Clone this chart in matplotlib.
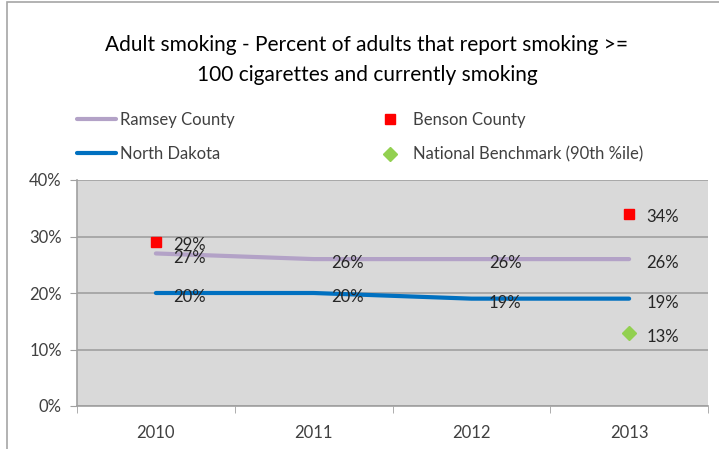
import matplotlib
matplotlib.use("Agg")
from matplotlib import pyplot as plt
from matplotlib.patches import Rectangle

# data
years = ["2010", "2011", "2012", "2013"]
ramsey = [27, 26, 26, 26]
north_dakota = [20, 20, 19, 19]
benson_idx = [0, 3]
benson = [29, 34]
bench_idx = [3]
benchmark = [13]

plt.rcParams['font.family'] = ['Lato', 'DejaVu Sans']

fig = plt.figure(figsize=(7.19, 4.49), dpi=100)
ax = fig.add_axes([77 / 719, 1 - 406 / 449, (708 - 77) / 719, (406 - 180) / 449])

x = list(range(len(years)))
ax.plot(x, ramsey, color='#b3a2c7', lw=3, solid_capstyle='round', label='Ramsey County')
ax.plot(x, north_dakota, color='#0070c0', lw=3, solid_capstyle='round', label='North Dakota')
ax.plot(benson_idx, benson, 's', color='#ff0000', ms=7.5, ls='none', label='Benson County')
ax.plot(bench_idx, benchmark, 'D', color='#92d050', ms=7, ls='none',
        label='National Benchmark (90th %ile)')

# data labels
def label(xs, ys, dy=-3):
    for xi, yi in zip(xs, ys):
        ax.annotate(f"{yi}%", (xi, yi), xytext=(12.5, dy), textcoords='offset points',
                    ha='left', va='center', fontsize=12, color='#262626')

label(x, ramsey)
label(x, north_dakota)
label(benson_idx, benson, dy=-2)
label(bench_idx, benchmark)

ax.set_xlim(-0.5, 3.5)
ax.set_ylim(0, 40)
ax.set_facecolor('#d9d9d9')
ax.set_yticks([0, 10, 20, 30, 40])
ax.set_yticklabels([f"{v}%" for v in [0, 10, 20, 30, 40]])
ax.set_xticks(x)
ax.set_xticklabels(years)
ax.set_xticks([-0.5, 0.5, 1.5, 2.5, 3.5], minor=True)
ax.tick_params(axis='x', which='major', length=0, pad=14, labelsize=12, colors='#404040')
ax.tick_params(axis='x', which='minor', length=5, color='#a0a0a0')
ax.tick_params(axis='y', length=5, labelsize=12, colors='#404040', pad=6)
ax.tick_params(axis='y', color='#a0a0a0')
ax.grid(axis='y', color='#a0a0a0', lw=1.2)
ax.set_axisbelow(True)
for s in ['top', 'right']:
    ax.spines[s].set_visible(False)
for s in ['left', 'bottom']:
    ax.spines[s].set_color('#a0a0a0')
    ax.spines[s].set_linewidth(1.2)

fig.text(367 / 719, 1 - 45 / 449, "Adult smoking - Percent of adults that report smoking >=",
         ha='center', va='center', fontsize=15, color='black')
fig.text(367 / 719, 1 - 75 / 449, "100 cigarettes and currently smoking",
         ha='center', va='center', fontsize=15, color='black')

fig.legend(ncol=2, loc='upper left', bbox_to_anchor=(62 / 719, 1 - 97 / 449),
           frameon=False, fontsize=12, handlelength=2.35, handletextpad=0.25,
           columnspacing=8.1, labelspacing=1.1, labelcolor='#404040')

# chart outer border
fig.add_artist(Rectangle((7 / 719, -0.1), 1, 1.1 - 2 / 449, transform=fig.transFigure,
                         fill=False, edgecolor='#a6a6a6', lw=1.2))

fig.savefig("out.png", dpi=100)
